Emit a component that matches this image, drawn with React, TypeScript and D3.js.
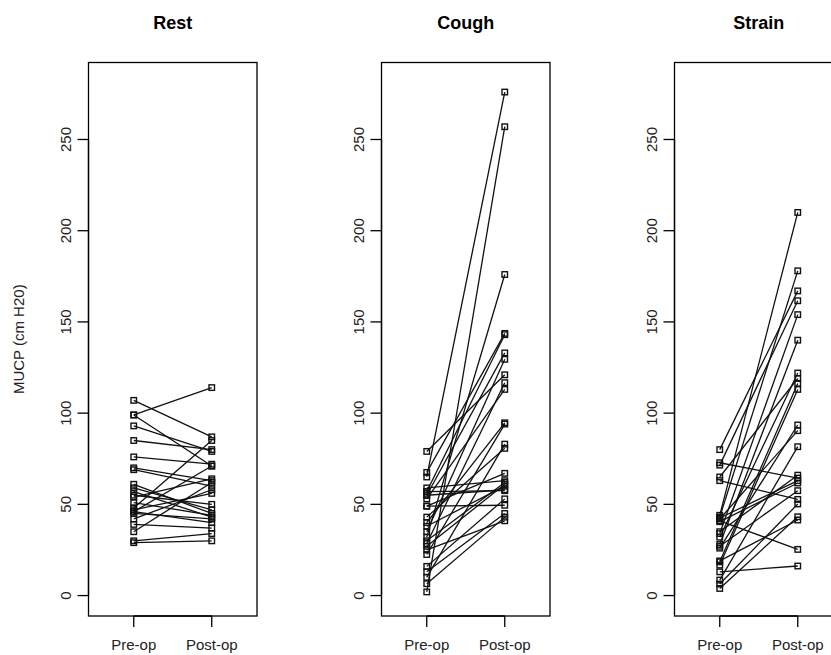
import { scaleLinear } from "d3";

const width = 831;
const height = 655;

const panelTitles = ["Rest", "Cough", "Strain"];
const xLabels = ["Pre-op", "Post-op"];
const yTicks = [0, 50, 100, 150, 200, 250];

// paired MUCP values (cm H20)
const restPre = [107, 99, 99, 93, 85, 76, 70, 69, 61, 59, 57, 54, 51, 48, 47, 46, 45, 42, 39, 35, 30, 29, 46, 55];
const restPost = [87, 114, 71, 79, 80, 72, 63, 60, 45, 47, 43, 64, 44, 85, 56, 71, 42, 58, 37, 62, 34, 30, 40, 50];

const coughPre = [65, 2, 32, 79, 67.5, 57, 55, 35, 28.5, 53, 40, 22.5, 10, 43, 49, 59, 57, 49, 30, 27, 16, 13, 6.5, 25, 55, 38];
const coughPost = [276, 257, 176, 121, 143.7, 143, 133, 129.5, 116.7, 113, 94.7, 94, 83, 80.7, 67, 63, 57.5, 49.5, 62, 61, 53, 45, 43, 41, 58, 60];

const strainPre = [80, 72.8, 71.5, 65, 63, 44, 43, 42, 41, 40.5, 34, 32, 28, 26, 18.5, 16.7, 13, 8.5, 6.3, 3.9, 27, 35, 19, 42.5];
const strainPost = [167, 64.4, 161.6, 119, 52.7, 210, 178, 90.4, 25.3, 61.7, 154, 122, 140, 93.5, 116.3, 113, 16.2, 81.6, 50.2, 43.2, 57.5, 66, 41.4, 63];

const panels = [
  { title: panelTitles[0], pre: restPre, post: restPost },
  { title: panelTitles[1], pre: coughPre, post: coughPost },
  { title: panelTitles[2], pre: strainPre, post: strainPost },
];

const panelLefts = [88.5, 381.5, 674.5];
const panelWidth = 168.5;
const TOP = 62.5;
const BOTTOM = 616;
const FONT = "'Liberation Sans', Arial, Helvetica, sans-serif";

const yScale = scaleLinear().domain([-11.2, 292.2]).range([BOTTOM, TOP]);

function Panel({ left, title, pre, post, showYLabel }) {
  const xScale = scaleLinear().domain([0.42, 2.58]).range([left, left + panelWidth]);
  const cx = left + panelWidth / 2;
  const sq = 5.5;
  return (
    <g>
      <text x={cx} y={29} textAnchor="middle" fontSize={18} fontWeight="bold" fontFamily={FONT}>
        {title}
      </text>
      <rect x={left} y={TOP} width={panelWidth} height={BOTTOM - TOP} fill="none" stroke="#000" strokeWidth={1.3} />
      {/* y axis */}
      <line x1={left} x2={left} y1={yScale(0)} y2={yScale(250)} stroke="#000" strokeWidth={1.3} />
      {yTicks.map((t) => (
        <g key={t}>
          <line x1={left - 11} x2={left} y1={yScale(t)} y2={yScale(t)} stroke="#000" strokeWidth={1.3} />
          <text
            transform={`translate(${left - 23.5},${yScale(t)}) rotate(-90)`}
            textAnchor="middle"
            dominantBaseline="central"
            fontSize={15}
            fill="#222"
            fontFamily={FONT}
          >
            {t}
          </text>
        </g>
      ))}
      {/* x axis */}
      <line x1={xScale(1)} x2={xScale(2)} y1={BOTTOM} y2={BOTTOM} stroke="#000" strokeWidth={1.3} />
      {xLabels.map((lab, i) => (
        <g key={lab}>
          <line x1={xScale(i + 1)} x2={xScale(i + 1)} y1={BOTTOM} y2={BOTTOM + 11} stroke="#000" strokeWidth={1.3} />
          <text x={xScale(i + 1)} y={650} textAnchor="middle" fontSize={15} fill="#222" fontFamily={FONT}>
            {lab}
          </text>
        </g>
      ))}
      {showYLabel && (
        <text
          transform={`translate(18,${(TOP + BOTTOM) / 2}) rotate(-90)`}
          textAnchor="middle"
          dominantBaseline="central"
          fontSize={15}
          fill="#222"
          fontFamily={FONT}
        >
          MUCP (cm H20)
        </text>
      )}
      {pre.map((v, i) => (
        <line
          key={"l" + i}
          x1={xScale(1)}
          y1={yScale(v)}
          x2={xScale(2)}
          y2={yScale(post[i])}
          stroke="#111"
          strokeWidth={1.3}
        />
      ))}
      {pre.map((v, i) => (
        <g key={"p" + i}>
          <rect x={xScale(1) - sq / 2} y={yScale(v) - sq / 2} width={sq} height={sq} fill="none" stroke="#111" strokeWidth={1.4} />
          <rect x={xScale(2) - sq / 2} y={yScale(post[i]) - sq / 2} width={sq} height={sq} fill="none" stroke="#111" strokeWidth={1.4} />
        </g>
      ))}
    </g>
  );
}

export default function App() {
  return (
    <div style={{ position: "fixed", left: 0, top: 0, width, height, background: "#fff" }}>
      <svg width={width} height={height} viewBox={`0 0 ${width} ${height}`} style={{ display: "block" }}>
        <rect width={width} height={height} fill="#fff" />
        {panels.map((p, i) => (
          <Panel key={p.title} left={panelLefts[i]} title={p.title} pre={p.pre} post={p.post} showYLabel={i === 0} />
        ))}
      </svg>
    </div>
  );
}
